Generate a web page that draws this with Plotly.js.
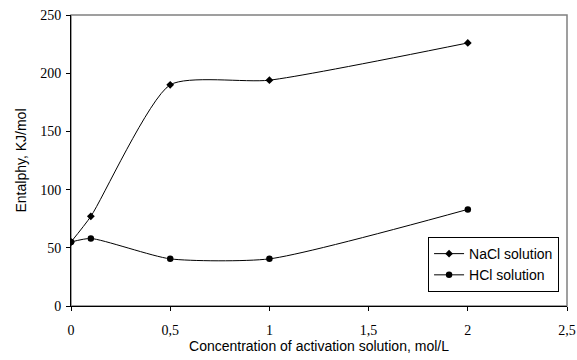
<!DOCTYPE html>
<html><head><meta charset="utf-8">
<script src="https://cdn.plot.ly/plotly-3.0.1.min.js"></script>
<style>html,body{margin:0;padding:0;background:#fff}</style>
</head><body><div id="chart" style="width:577px;height:360px"></div>
<script>
const xConc = [0, 0.1, 0.5, 1, 2];
const naclVals = [55, 77, 190, 194, 226];
const hclVals = [55, 58, 40.5, 40.5, 83];
const xTickVals = [0, 0.5, 1, 1.5, 2, 2.5];
const xTickText = ['0', '0,5', '1', '1,5', '2', '2,5'];
const yTickVals = [0, 50, 100, 150, 200, 250];

const sans = 'Liberation Sans, Arial, sans-serif';
const serif = 'Liberation Serif, Times New Roman, serif';
const traces = [
  {x: xConc, y: naclVals, name: 'NaCl solution', mode: 'lines+markers', type: 'scatter',
   line: {color: '#000', width: 1, shape: 'spline', smoothing: 0.6},
   marker: {symbol: 'diamond', size: 6, color: '#000'}},
  {x: xConc, y: hclVals, name: 'HCl solution', mode: 'lines+markers', type: 'scatter',
   line: {color: '#000', width: 1, shape: 'spline', smoothing: 0.6},
   marker: {symbol: 'circle', size: 6.5, color: '#000'}}
];
const layout = {
  width: 577, height: 360,
  margin: {l: 71, r: 10, t: 15, b: 54},
  paper_bgcolor: '#fff', plot_bgcolor: '#fff',
  showlegend: true,
  legend: {x: 0.984, y: 0.048, xanchor: 'right', yanchor: 'bottom',
    bordercolor: '#000', borderwidth: 1, bgcolor: '#fff',
    font: {family: sans, size: 14, color: '#000'},
    itemwidth: 30, tracegroupgap: 0},
  xaxis: {range: [0, 2.5], tickvals: xTickVals, ticktext: xTickText,
    showgrid: false, zeroline: false, showline: true, linecolor: '#000', linewidth: 1,
    ticks: 'outside', ticklen: 4, tickcolor: '#000', ticklabelstandoff: 7,
    tickfont: {family: serif, size: 14, color: '#000'},
    title: {text: 'Concentration of activation solution, mol/L', standoff: 3,
      font: {family: sans, size: 14, color: '#000'}}},
  yaxis: {range: [0, 250], tickvals: yTickVals,
    showgrid: false, zeroline: false, showline: true, linecolor: '#000', linewidth: 1,
    ticks: 'outside', ticklen: 4, tickcolor: '#000', ticklabelstandoff: 2,
    tickfont: {family: serif, size: 14, color: '#000'},
    title: {text: 'Entalphy, KJ/mol', standoff: 10,
      font: {family: sans, size: 14, color: '#000'}}},
  shapes: [{type: 'rect', xref: 'paper', yref: 'paper', x0: 0, x1: 1, y0: 0, y1: 1,
    line: {color: '#808080', width: 1.5}, layer: 'below'}]
};
Plotly.newPlot('chart', traces, layout, {displayModeBar: false, staticPlot: true});
</script></body></html>
